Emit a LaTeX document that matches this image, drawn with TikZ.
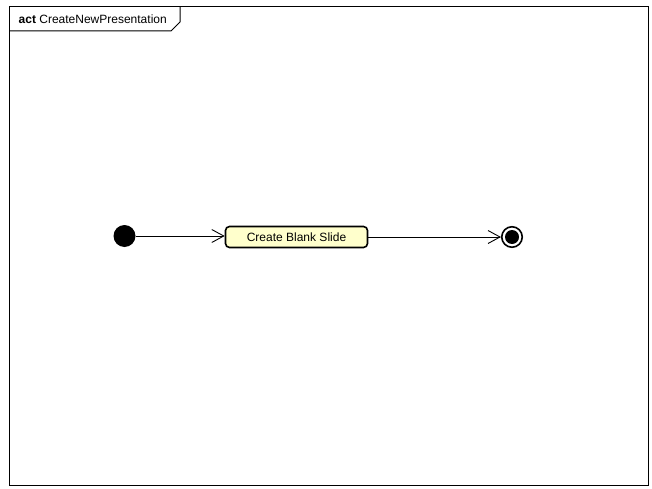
\documentclass[tikz,border=0pt]{standalone}
\usepackage{fontspec}
\setmainfont{Liberation Sans}
\usetikzlibrary{arrows.meta}
\definecolor{actfill}{HTML}{FFFFCC}
\tikzset{
  frameline/.style={draw=black, line width=1pt},
  action/.style={draw=black, line width=1.6pt, fill=actfill, rounded corners=4pt,
    minimum width=142pt, minimum height=21pt, inner sep=0pt,
    font=\fontsize{12}{14}\selectfont},
  startnode/.style={circle, fill=black, minimum size=22pt, inner sep=0pt},
  endnode/.style={circle, draw=black, line width=1.6pt, fill=white, minimum size=20.5pt, inner sep=0pt},
  enddot/.style={circle, fill=black, minimum size=14pt, inner sep=0pt},
  flow/.style={draw=black, line width=0.9pt, -{Straight Barb[length=12pt, width=13pt, line width=0.9pt]}},
}
\begin{document}
\begin{tikzpicture}[x=1pt, y=-1pt]
  \useasboundingbox (0,0) rectangle (652,489);
  % diagram frame with name tab
  \draw[frameline] (9,7) rectangle (648,485);
  \draw[frameline] (9,31) -- (171,31) -- (180,22) -- (180,7);
  \node[anchor=west, inner sep=0pt, font=\fontsize{12}{14}\selectfont] (title) at (18.5,19.5)
    {\textbf{act} CreateNewPresentation};
  % nodes
  \node[startnode] (init) at (124.5,236) {};
  \node[action] (blank) at (296.5,237) {Create Blank Slide};
  \node[endnode] (final) at (512,237) {};
  \node[enddot] (finaldot) at (final) {};
  % control flows
  \draw[flow] (init) -- (blank.west |- init);
  \draw[flow] (blank.east) -- (final);
\end{tikzpicture}
\end{document}
